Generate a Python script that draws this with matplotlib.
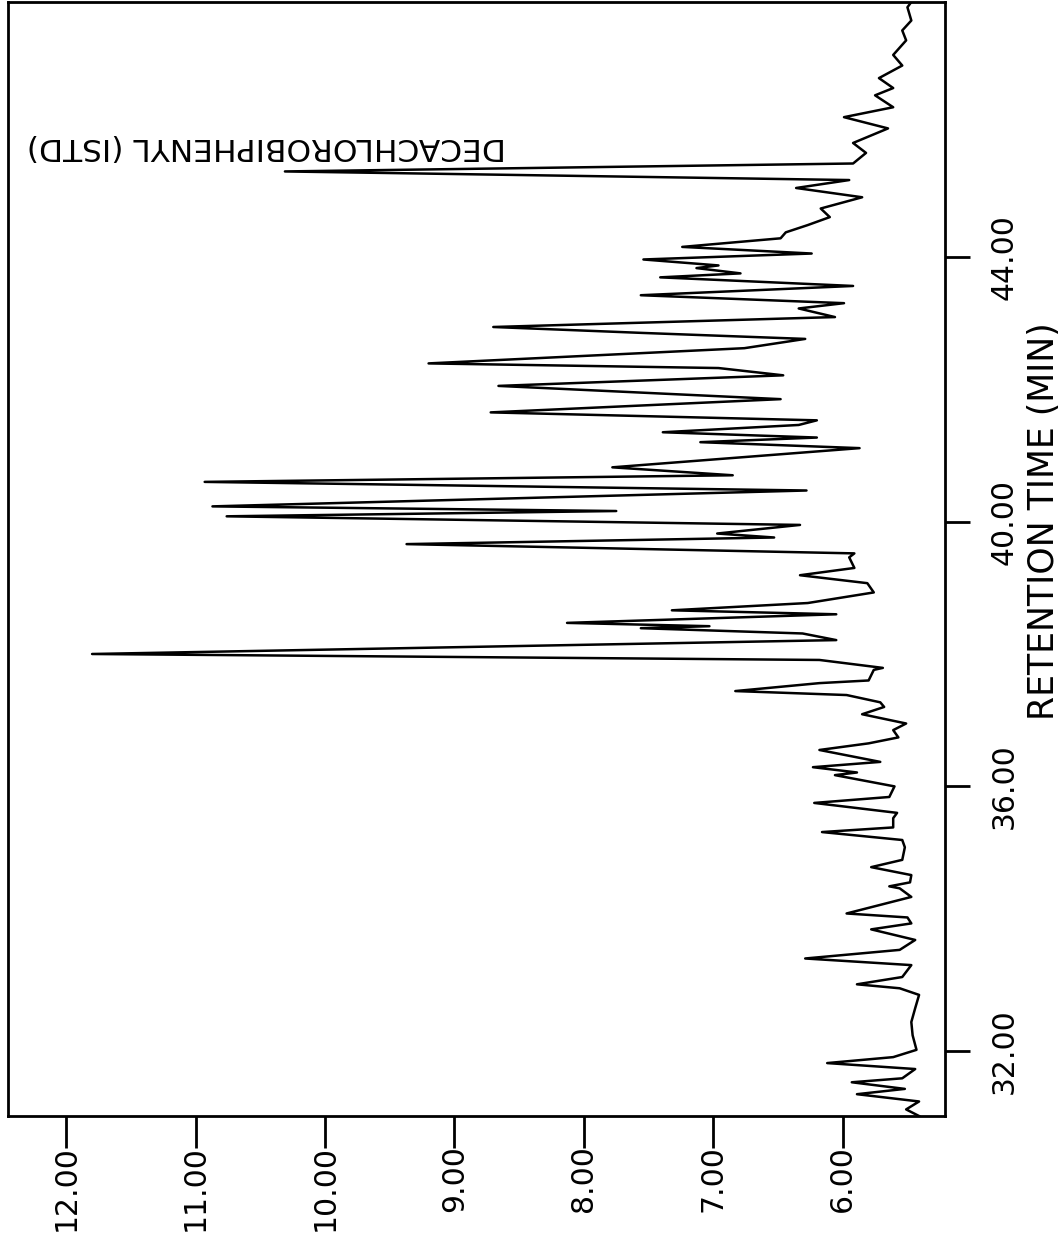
import matplotlib.pyplot as plt
from matplotlib.ticker import FormatStrFormatter

# chromatogram: retention time (min) / detector signal
ret_time = [31.02, 31.12, 31.24, 31.35, 31.43, 31.53, 31.59, 31.73, 31.82, 31.91,
            32.02, 32.24, 32.44, 32.65, 32.85, 32.95, 33.01, 33.12, 33.30, 33.40,
            33.53, 33.68, 33.84, 33.93, 34.02, 34.08, 34.33, 34.46, 34.49, 34.55,
            34.66, 34.78, 34.89, 35.08, 35.19, 35.31, 35.38, 35.52, 35.60, 35.75,
            35.84, 36.00, 36.17, 36.21, 36.29, 36.37, 36.55, 36.65, 36.74, 36.85,
            36.95, 37.09, 37.20, 37.27, 37.38, 37.44, 37.56, 37.60, 37.76, 37.79,
            37.91, 38.00, 38.21, 38.31, 38.39, 38.42, 38.47, 38.60, 38.66, 38.77,
            38.93, 39.07, 39.19, 39.30, 39.46, 39.52, 39.66, 39.76, 39.82, 39.95,
            40.08, 40.16, 40.23, 40.47, 40.60, 40.70, 40.82, 41.11, 41.20, 41.27,
            41.35, 41.46, 41.53, 41.65, 41.85, 42.05, 42.21, 42.32, 42.39, 42.62,
            42.76, 42.85, 42.94, 43.09, 43.22, 43.30, 43.42, 43.56, 43.69, 43.75,
            43.83, 43.87, 43.96, 44.05, 44.15, 44.28, 44.37, 44.48, 44.60, 44.73,
            44.90, 45.04, 45.16, 45.29, 45.41, 45.57, 45.72, 45.94, 46.11, 46.26,
            46.44, 46.55, 46.70, 46.89, 47.05, 47.27, 47.42, 47.57, 47.77, 47.85]
signal = [5.41, 5.51, 5.41, 5.89, 5.52, 5.93, 5.54, 5.44, 6.12, 5.61,
          5.43, 5.46, 5.47, 5.44, 5.41, 5.56, 5.89, 5.54, 5.47, 6.29,
          5.56, 5.44, 5.78, 5.47, 5.50, 5.97, 5.47, 5.56, 5.64, 5.48,
          5.47, 5.78, 5.54, 5.52, 5.54, 6.16, 5.61, 5.61, 5.58, 6.22,
          5.64, 5.60, 6.06, 5.89, 6.23, 5.71, 6.18, 5.80, 5.57, 5.61,
          5.51, 5.85, 5.68, 5.71, 5.97, 6.83, 6.18, 5.80, 5.76, 5.69,
          6.18, 11.80, 6.05, 6.31, 7.56, 7.03, 8.13, 6.05, 7.32, 6.27,
          5.76, 5.81, 6.33, 5.91, 5.95, 5.91, 9.37, 6.53, 6.97, 6.33,
          10.76, 7.75, 10.87, 6.28, 10.93, 6.85, 7.78, 5.87, 7.10, 6.20,
          7.39, 6.34, 6.20, 8.72, 6.48, 8.66, 6.46, 6.96, 9.20, 6.76,
          6.29, 7.54, 8.70, 6.06, 6.34, 5.99, 7.56, 5.92, 7.41, 6.79,
          7.13, 6.96, 7.54, 6.24, 7.24, 6.48, 6.44, 6.27, 6.10, 6.17,
          5.85, 6.36, 5.95, 10.31, 5.92, 5.82, 5.92, 5.65, 5.99, 5.61,
          5.75, 5.61, 5.72, 5.54, 5.61, 5.51, 5.54, 5.47, 5.50, 5.47]

time_ticks = [32, 36, 40, 44]
signal_ticks = [6, 7, 8, 9, 10, 11, 12]

istd_label = "DECACHLOROBIPHENYL (ISTD)"
istd_signal = 8.6
istd_time = 45.66

# the page is turned: time runs up, signal grows to the left
fig = plt.figure(figsize=(10.62, 12.41), dpi=100)
ax = fig.add_axes([0.0075, 0.1007, 0.8823, 0.8977])

ax.plot(signal, ret_time, color="black", lw=1.8)

ax.set_xlim(12.45, 5.21)
ax.set_ylim(31.02, 47.85)

ax.set_xticks(signal_ticks)
ax.set_yticks(time_ticks)
ax.xaxis.set_major_formatter(FormatStrFormatter("%.2f"))
ax.yaxis.set_major_formatter(FormatStrFormatter("%.2f"))

ax.yaxis.tick_right()
ax.tick_params(axis="x", bottom=True, top=False, length=23, width=2,
               pad=-2, labelsize=21.5, labelrotation=90)
ax.tick_params(axis="y", left=False, right=True, length=18, width=2,
               pad=14, labelsize=21.5, labelrotation=90)
for lbl in ax.get_yticklabels():
    lbl.set_verticalalignment("center")

for sp in ax.spines.values():
    sp.set_linewidth(2)
    sp.set_color("black")

ax.yaxis.set_label_position("right")
ax.set_ylabel("RETENTION TIME (MIN)", fontsize=25, rotation=90)
ax.yaxis.set_label_coords(1.0875, 0.534)

ax.text(istd_signal, istd_time, istd_label, rotation=180,
        rotation_mode="anchor", ha="left", va="center", fontsize=22.5)

fig.savefig("out.png", dpi=100, facecolor="white")
